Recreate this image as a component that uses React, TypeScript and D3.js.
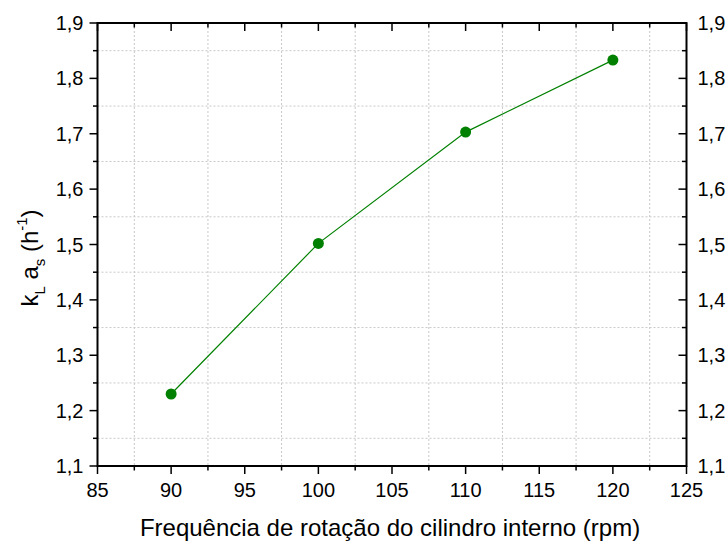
import React from "react";
import * as d3 from "d3";

const rpm = [90, 100, 110, 120];
const kla = [1.23, 1.502, 1.703, 1.833];
const xTicks = [85, 90, 95, 100, 105, 110, 115, 120, 125];
const yTicks = [1.1, 1.2, 1.3, 1.4, 1.5, 1.6, 1.7, 1.8, 1.9];
const xMinor = [87.5, 92.5, 97.5, 102.5, 107.5, 112.5, 117.5, 122.5];
const yMinor = [1.15, 1.25, 1.35, 1.45, 1.55, 1.65, 1.75, 1.85];

const W = 726;
const H = 541;
const M = { left: 97.5, right: 686.5, top: 23, bottom: 466 };
const FONT = "'Liberation Sans', Arial, sans-serif";
const GREEN = "#008000";

export default function App() {
  const x = d3.scaleLinear().domain([85, 125]).range([M.left, M.right]);
  const y = d3.scaleLinear().domain([1.1, 1.9]).range([M.bottom, M.top]);
  const line = d3
    .line<number>()
    .x((_, i) => x(rpm[i]))
    .y((d) => y(d));
  const fmt = (v: number) => v.toFixed(1).replace(".", ",");

  return (
    <svg
      width={W}
      height={H}
      style={{ position: "absolute", left: 0, top: 0 }}
      fontFamily={FONT}
    >
      <rect width={W} height={H} fill="#fff" />
      {/* dotted grid at half-step positions */}
      <g stroke="#c8c8c8" strokeWidth={1} strokeDasharray="2,2">
        {xMinor.map((v) => (
          <line key={"gx" + v} x1={x(v)} x2={x(v)} y1={M.top} y2={M.bottom} />
        ))}
        {yMinor.map((v) => (
          <line key={"gy" + v} x1={M.left} x2={M.right} y1={y(v)} y2={y(v)} />
        ))}
      </g>

      {/* frame */}
      <rect
        x={M.left}
        y={M.top}
        width={M.right - M.left}
        height={M.bottom - M.top}
        fill="none"
        stroke="#000"
        strokeWidth={2}
      />

      {/* ticks */}
      <g stroke="#000" strokeWidth={1.5}>
        {xTicks.map((v) => (
          <g key={"xt" + v}>
            <line x1={x(v)} x2={x(v)} y1={M.bottom} y2={M.bottom + 8} />
            <line x1={x(v)} x2={x(v)} y1={M.top} y2={M.top + 8} />
          </g>
        ))}
        {xMinor.map((v) => (
          <g key={"xm" + v}>
            <line x1={x(v)} x2={x(v)} y1={M.bottom} y2={M.bottom + 4.5} />
            <line x1={x(v)} x2={x(v)} y1={M.top} y2={M.top + 4.5} />
          </g>
        ))}
        {yTicks.map((v) => (
          <g key={"yt" + v}>
            <line x1={M.left - 8} x2={M.left} y1={y(v)} y2={y(v)} />
            <line x1={M.right - 8} x2={M.right} y1={y(v)} y2={y(v)} />
          </g>
        ))}
        {yMinor.map((v) => (
          <g key={"ym" + v}>
            <line x1={M.left - 4.5} x2={M.left} y1={y(v)} y2={y(v)} />
            <line x1={M.right - 4.5} x2={M.right} y1={y(v)} y2={y(v)} />
          </g>
        ))}
      </g>

      {/* tick labels */}
      <g fontSize={20} fill="#000">
        {xTicks.map((v) => (
          <text key={"xl" + v} x={x(v)} y={497} textAnchor="middle">
            {v}
          </text>
        ))}
        {yTicks.map((v) => (
          <text key={"yl" + v} x={M.left - 14} y={y(v) + 7} textAnchor="end">
            {fmt(v)}
          </text>
        ))}
        {yTicks.map((v) => (
          <text key={"yr" + v} x={M.right + 11} y={y(v) + 7} textAnchor="start">
            {fmt(v)}
          </text>
        ))}
      </g>

      {/* axis titles */}
      <text x={390} y={536} fontSize={24} textAnchor="middle" fill="#000">
        Frequência de rotação do cilindro interno (rpm)
      </text>
      <g transform="translate(38,258) rotate(-90)">
        <text x={0} y={0} fontSize={24} textAnchor="middle" fill="#000">
          k
          <tspan fontSize={15} dy={7}>L</tspan>
          <tspan dy={-7}> a</tspan>
          <tspan fontSize={15} dy={7}>s</tspan>
          <tspan dy={-7}> (h</tspan>
          <tspan fontSize={15} dy={-11}>-1</tspan>
          <tspan dy={11}>)</tspan>
        </text>
      </g>

      {/* data series */}
      <path d={line(kla) || ""} fill="none" stroke={GREEN} strokeWidth={1.2} />
      {kla.map((v, i) => (
        <circle key={"p" + i} cx={x(rpm[i])} cy={y(v)} r={5.5} fill={GREEN} />
      ))}
    </svg>
  );
}
